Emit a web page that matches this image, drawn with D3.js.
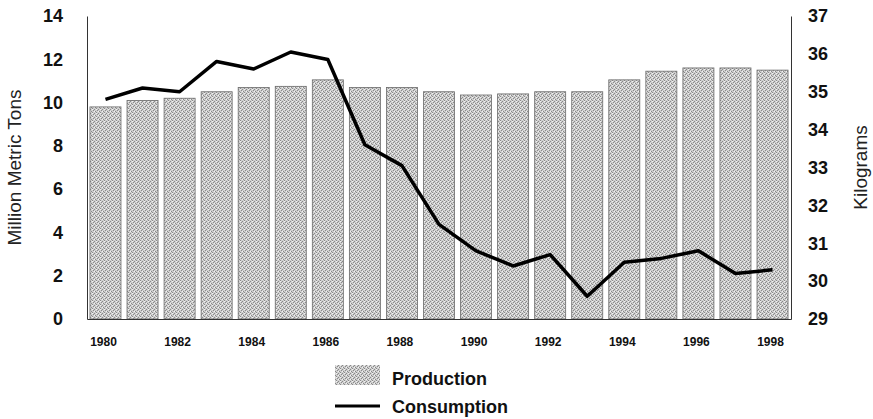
<!DOCTYPE html>
<html>
<head>
<meta charset="utf-8">
<script src="https://cdn.jsdelivr.net/npm/d3@7"></script>
<style>
  body { margin: 0; background: #fff; }
  svg { display: block; font-family: Arial, "Liberation Sans", sans-serif; }
</style>
</head>
<body>
<div id="chart"></div>
<script>
var years = [1980, 1981, 1982, 1983, 1984, 1985, 1986, 1987, 1988, 1989,
             1990, 1991, 1992, 1993, 1994, 1995, 1996, 1997, 1998]
// million metric tons
var production = [9.8, 10.1, 10.2, 10.5, 10.7, 10.75, 11.05, 10.7, 10.7, 10.5,
                  10.35, 10.4, 10.5, 10.5, 11.05, 11.45, 11.6, 11.6, 11.5]
// kilograms per capita
var consumption = [34.8, 35.1, 35.0, 35.8, 35.6, 36.05, 35.85, 33.6, 33.05, 31.5,
                   30.8, 30.4, 30.7, 29.6, 30.5, 30.6, 30.8, 30.2, 30.3]
var leftTicks = [0, 2, 4, 6, 8, 10, 12, 14]
var rightTicks = [29, 30, 31, 32, 33, 34, 35, 36, 37]
var yearLabels = [1980, 1982, 1984, 1986, 1988, 1990, 1992, 1994, 1996, 1998]

var width = 873, height = 419
// plot box (window.top is reserved, so prefixed names)
var plotL = 87, plotR = 791, plotT = 16, plotB = 319

var svg = d3.select("#chart").append("svg")
    .attr("width", width)
    .attr("height", height)

// halftone texture for the bars
var defs = svg.append("defs")
var pat = defs.append("pattern")
    .attr("id", "dots")
    .attr("patternUnits", "userSpaceOnUse")
    .attr("width", 4)
    .attr("height", 4)
pat.append("rect").attr("width", 4).attr("height", 4).attr("fill", "#cfcfcf")
;[[0, 0], [2, 1], [1, 2], [3, 3]].forEach(function(p) {
  pat.append("rect").attr("x", p[0]).attr("y", p[1]).attr("width", 1).attr("height", 1).attr("fill", "#8a8a8a")
})
;[[2, 3], [0, 1]].forEach(function(p) {
  pat.append("rect").attr("x", p[0]).attr("y", p[1]).attr("width", 1).attr("height", 1).attr("fill", "#f2f2f2")
})

var x = d3.scaleBand()
    .domain(years)
    .range([plotL, plotR])
    .paddingInner(0.163)
    .paddingOuter(0.08)

var yL = d3.scaleLinear().domain([0, 14]).range([plotB, plotT])
var yR = d3.scaleLinear().domain([29, 37]).range([plotB, plotT])

// bars
svg.append("g")
  .selectAll("rect")
  .data(production)
  .enter()
  .append("rect")
  .attr("x", function(d, i) { return x(years[i]) })
  .attr("y", function(d) { return yL(d) })
  .attr("width", x.bandwidth())
  .attr("height", function(d) { return plotB - yL(d) })
  .attr("fill", "url(#dots)")
  .attr("stroke", "#6a6a6a")
  .attr("stroke-width", 0.8)

// axes
var axL = svg.append("g")
    .attr("transform", "translate(" + plotL + ",0)")
    .call(d3.axisLeft(yL).tickValues(leftTicks).tickSize(0).tickPadding(24))
var axR = svg.append("g")
    .attr("transform", "translate(" + plotR + ",0)")
    .call(d3.axisRight(yR).tickValues(rightTicks).tickSize(0).tickPadding(17))
var axB = svg.append("g")
    .attr("transform", "translate(0," + plotB + ")")
    .call(d3.axisBottom(x).tickValues(yearLabels).tickSize(0).tickPadding(18))

;[axL, axR].forEach(function(a) {
  a.selectAll("text")
    .style("font-size", "18px")
    .style("font-weight", "bold")
    .attr("fill", "#111")
    .attr("font-family", null)
})
axB.selectAll("text")
  .style("font-size", "12px")
  .style("font-weight", "bold")
  .attr("fill", "#111")
  .attr("font-family", null)
  .attr("dx", -2)
svg.selectAll(".domain").attr("stroke", "#333").attr("stroke-width", 1)

// consumption line
var line = d3.line()
    .x(function(d, i) { return x(years[i]) + x.bandwidth() / 2 })
    .y(function(d) { return yR(d) })

svg.append("path")
  .datum(consumption)
  .attr("d", line)
  .attr("fill", "none")
  .attr("stroke", "#000")
  .attr("stroke-width", 3.5)
  .attr("stroke-linejoin", "round")

// axis titles
svg.append("text")
  .attr("transform", "translate(21," + (plotT + plotB) / 2 + ") rotate(-90)")
  .attr("text-anchor", "middle")
  .style("font-size", "19px")
  .attr("fill", "#222")
  .text("Million Metric Tons")

svg.append("text")
  .attr("transform", "translate(867," + (plotT + plotB) / 2 + ") rotate(-90)")
  .attr("text-anchor", "middle")
  .style("font-size", "19px")
  .attr("fill", "#222")
  .text("Kilograms")

// legend
var legend = svg.append("g")
legend.append("rect")
  .attr("x", 335).attr("y", 365)
  .attr("width", 45).attr("height", 20)
  .attr("fill", "url(#dots)")
legend.append("text")
  .attr("x", 392).attr("y", 385)
  .style("font-size", "18px").style("font-weight", "bold")
  .attr("fill", "#111")
  .text("Production")
legend.append("line")
  .attr("x1", 335).attr("x2", 380)
  .attr("y1", 406).attr("y2", 406)
  .attr("stroke", "#000").attr("stroke-width", 3)
legend.append("text")
  .attr("x", 392).attr("y", 413)
  .style("font-size", "18px").style("font-weight", "bold")
  .attr("fill", "#111")
  .text("Consumption")
</script>
</body>
</html>
